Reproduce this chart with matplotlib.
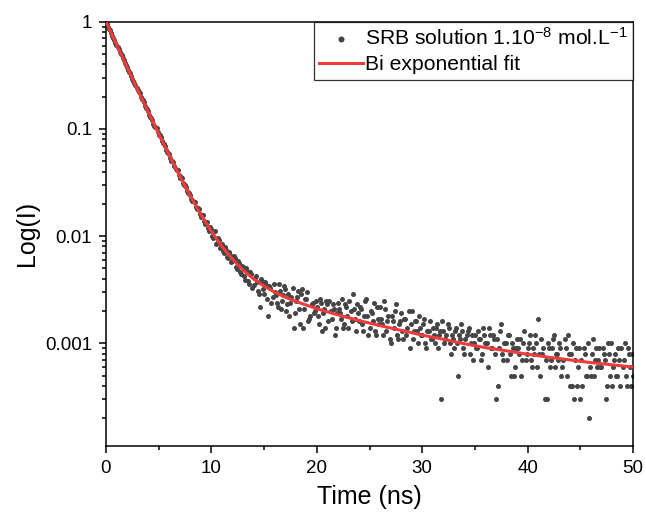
import numpy as np
import matplotlib
matplotlib.use('Agg')
import matplotlib.pyplot as plt
from matplotlib.ticker import FixedLocator, LogLocator, NullFormatter

plt.rcParams['font.family'] = ['Liberation Sans', 'DejaVu Sans']
plt.rcParams['mathtext.fontset'] = 'custom'
plt.rcParams['mathtext.rm'] = 'Liberation Sans'
plt.rcParams['mathtext.default'] = 'regular'

# decay channels are 0.1 ns apart; stored as two interleaved sets
t_even = np.arange(0, 50.01, 0.2)    # 0.0, 0.2, ... 50.0
t_odd = np.arange(0.1, 50, 0.2)      # 0.1, 0.3, ... 49.9

# counts per channel, normalised by the peak (10000)
counts_even = [10000, 9020, 8290, 7410, 6820, 6080, 5610, 5000, 4630, 4110,
               3800, 3390, 3150, 2790, 2590, 2300, 2150, 1890, 1770, 1560,
               1470, 1290, 1210, 1070, 1010, 880, 835, 735, 700, 605,
               580, 505, 490, 420, 410, 352, 345, 298, 290, 250,
               243, 212, 208, 180, 178, 152, 156, 130, 134, 112,
               117, 96, 84, 95, 78, 84, 70, 74, 62, 67,
               58, 63, 49, 56, 44, 52, 39, 47, 36, 44,
               35, 42, 31, 22, 38, 29, 35, 18, 33, 27,
               30, 24, 36, 21, 28, 32, 23, 18, 27, 14,
               25, 31, 15, 32, 21, 26, 16, 18, 24, 20,
               22, 15, 24, 19, 14, 23, 25, 17, 21, 14,
               24, 19, 26, 15, 22, 14, 20, 29, 17, 23,
               16, 21, 13, 25, 18, 14, 19, 24, 12, 17,
               22, 15, 25, 13, 18, 10, 16, 20, 12, 15,
               19, 11, 17, 14, 9, 20, 13, 16, 10, 14,
               12, 17, 9, 13, 11, 14, 10, 15, 12, 3,
               13, 11, 15, 10, 12, 9, 14, 5, 11, 13,
               8, 12, 14, 10, 7, 12, 9, 11, 7, 14,
               10, 6, 12, 9, 11, 3, 4, 13, 8, 10,
               7, 12, 5, 9, 6, 11, 8, 5, 10, 7,
               9, 12, 6, 8, 10, 17, 5, 8, 3, 3,
               9, 7, 11, 6, 8, 10, 5, 7, 9, 12,
               4, 4, 3, 9, 6, 3, 4, 8, 5, 2,
               5, 11, 7, 6, 9, 6, 8, 3, 10, 5,
               4, 7, 5, 9, 4, 6, 10, 4, 8, 4,
               5]
counts_odd = [9520, 8640, 7830, 7120, 6400, 5870, 5260, 4850, 4360, 3990,
              3580, 3290, 2950, 2710, 2420, 2230, 1990, 1850, 1650, 1530,
              1360, 1265, 1120, 1045, 930, 870, 770, 722, 640, 600,
              530, 505, 448, 418, 372, 355, 312, 300, 262, 252,
              222, 214, 188, 182, 160, 158, 138, 136, 118, 122,
              101, 111, 87, 92, 80, 73, 79, 64, 71, 57,
              65, 52, 59, 46, 53, 42, 50, 38, 46, 33,
              41, 37, 29, 40, 32, 37, 26, 34, 24, 36,
              28, 22, 31, 25, 34, 20, 29, 24, 33, 19,
              27, 21, 29, 14, 26, 30, 17, 23, 19, 25,
              18, 26, 13, 21, 25, 16, 20, 23, 12, 19,
              21, 17, 14, 23, 18, 25, 16, 21, 13, 19,
              22, 15, 18, 26, 12, 20, 16, 13, 22, 15,
              17, 12, 21, 16, 11, 18, 14, 23, 11, 16,
              13, 17, 12, 20, 15, 11, 16, 13, 18, 12,
              15, 10, 13, 16, 11, 12, 14, 9, 13, 16,
              10, 12, 14, 8, 11, 13, 10, 12, 15, 9,
              11, 13, 8, 12, 10, 9, 13, 11, 8, 12,
              10, 14, 9, 12, 8, 11, 9, 15, 7, 10,
              12, 8, 10, 5, 9, 9, 11, 7, 13, 8,
              10, 7, 9, 12, 6, 8, 11, 9, 7, 10,
              6, 9, 12, 8, 7, 9, 6, 11, 5, 8,
              8, 10, 7, 4, 9, 7, 9, 5, 10, 6,
              8, 5, 9, 7, 6, 9, 7, 4, 8, 10,
              6, 8, 5, 7, 9, 7, 5, 9, 6, 8]

time_ns = np.concatenate([t_even, t_odd])
intensity = np.array(counts_even + counts_odd) / 10000.0
order = np.argsort(time_ns)
time_ns, intensity = time_ns[order], intensity[order]

# bi-exponential fit curve
fit_t = [0, 1, 2, 3, 4, 5, 6, 7, 8, 9, 10, 11, 12, 13, 14, 15, 16, 17, 18,
         20, 22, 24, 26, 28, 30, 32, 34, 36, 38, 40, 42, 44, 46, 48, 50]
fit_y = [1.0, 0.6134, 0.3771, 0.2326, 0.1442, 0.0900, 0.0567, 0.0363, 0.0237,
         0.0159, 0.0111, 0.0080, 0.00609, 0.00482, 0.00398, 0.00341, 0.00300,
         0.00269, 0.00246, 0.00210, 0.00184, 0.00163, 0.00146, 0.00132,
         0.00119, 0.00109, 0.00099, 0.00091, 0.00085, 0.00079, 0.00074,
         0.00070, 0.00066, 0.00063, 0.00060]

fig = plt.figure(figsize=(6.46, 5.18), dpi=100)
ax = fig.add_axes([0.164, 0.139, 0.816, 0.819])

ax.scatter(time_ns, intensity, s=13, color='#454545', linewidths=0,
           label='SRB solution 1.10$^{-8}$ mol.L$^{-1}$', zorder=2)
ax.plot(fit_t, fit_y, color='#ee3b3b', lw=2.2, label='Bi exponential fit', zorder=3)

ax.set_yscale('log')
ax.set_xlim(0, 50)
ax.set_ylim(1.1e-4, 1)
ax.yaxis.set_major_locator(FixedLocator([1, 0.1, 0.01, 0.001]))
ax.set_yticklabels(['1', '0.1', '0.01', '0.001'])
ax.yaxis.set_minor_locator(LogLocator(base=10, subs=np.arange(2, 10), numticks=20))
ax.yaxis.set_minor_formatter(NullFormatter())
ax.set_xticks([0, 10, 20, 30, 40, 50])
ax.set_xticks([5, 15, 25, 35, 45], minor=True)

ax.tick_params(which='both', direction='out', top=False, right=False,
               width=1.1, labelsize=13.5, pad=5)
ax.tick_params(which='major', length=5)
ax.tick_params(which='minor', length=3)
for sp in ax.spines.values():
    sp.set_linewidth(1.1)

ax.set_xlabel('Time (ns)', fontsize=18, labelpad=6)
ax.set_ylabel('Log(I)', fontsize=18, labelpad=4)

leg = ax.legend(loc='upper right', fontsize=15.2, frameon=True, fancybox=False,
                borderaxespad=0, borderpad=0.25, handlelength=2.1,
                handletextpad=0.1, labelspacing=0.3, markerscale=1.2)
leg.get_frame().set_edgecolor('black')
leg.get_frame().set_linewidth(0.9)

fig.savefig('out.png', dpi=100)
